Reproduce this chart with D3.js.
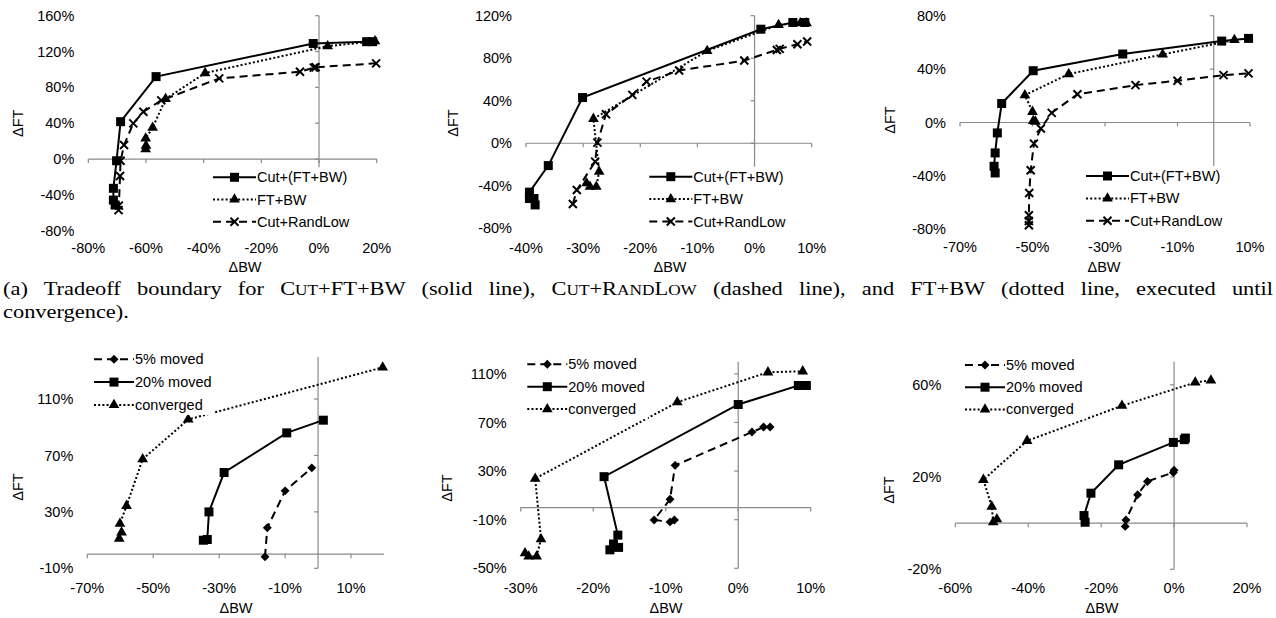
<!DOCTYPE html>
<html>
<head>
<meta charset="utf-8">
<title>Tradeoff boundary</title>
<script src="https://d3js.org/d3.v7.min.js"></script>
<style>
  body { margin: 0; background: #fff; }
  svg { display: block; }
  text { font-family: "Liberation Sans", Arial, sans-serif; font-size: 14.5px; fill: #000; }
  text.caption { font-family: "Liberation Serif", "Times New Roman", serif; font-size: 19.5px; }
</style>
</head>
<body>
<script>
// values are [ΔBW %, ΔFT %]
// (a) top row
const a1CutFtBw = [[-70.7, -51.3], [-71.3, -45.8], [-71.3, -32.7], [-70.2, -1.9], [-68.8, 41.7], [-56.5, 92], [-2, 129], [16.5, 131], [18.6, 131]]
const a1FtBw = [[-60.1, 11], [-60, 15], [-60.1, 23], [-57.7, 35], [-53.2, 67], [-39.5, 96], [3, 126], [19.4, 131.5]]
const a1CutRand = [[-69.5, -57], [-69.4, -52], [-69, -19], [-68.8, -2], [-67.6, 15.6], [-64.4, 39.8], [-60.9, 52.8], [-54.7, 65.5], [-34.6, 90], [-6.6, 97.5], [-1.8, 102], [-1.2, 102.5], [19.8, 106.8]]

const a2CutFtBw = [[-38.4, -58], [-38.6, -52], [-39.4, -52], [-39.4, -46], [-36.1, -21], [-30.1, 43], [1.1, 107.3], [6.7, 113.6], [8.8, 113.6]]
const a2FtBw = [[-29.4, -37.6], [-28.8, -40.8], [-27.7, -40.8], [-27.2, -26.7], [-28.2, 23], [-8.3, 86.9], [4.2, 111.4], [8, 113], [9.1, 113]]
const a2CutRand = [[-31.8, -57.1], [-31.1, -44], [-27.9, -17.3], [-27.5, 0.6], [-26, 27.3], [-21.4, 45.5], [-18.9, 58], [-13.2, 68.4], [-1.8, 77.8], [3.9, 87.8], [4.4, 88.8], [7.5, 93.2], [9.2, 95.7]]

const a3CutFtBw = [[-60.3, -37.8], [-60.6, -32.8], [-60.3, -22.8], [-59.7, -7.8], [-58.5, 14.2], [-49.8, 38.8], [-25.1, 51.3], [2.2, 61], [9.6, 63]]
const a3FtBw = [[-49.2, 0.7], [-49.8, 1.2], [-50, 8], [-52.1, 20.5], [-40, 36.3], [-14.1, 51], [5.7, 61.8]]
const a3CutRand = [[-51, -77], [-51, -73.8], [-51, -69.5], [-50.9, -52.8], [-50.5, -35.8], [-49.6, -15.8], [-47.7, -4.5], [-44.7, 7.2], [-37.6, 21.2], [-21.6, 28], [-10, 31.3], [2.7, 35.5], [9.6, 36.8]]

// bottom row
const b1Moved5 = [[-16.1, -1.9], [-15.4, 18.7], [-10, 44.9], [-1.9, 61.2]]
const b1Moved20 = [[-34.8, 9.9], [-33.6, 10.4], [-33.1, 30], [-28.5, 57.9], [-9.5, 86], [1.6, 95]]
const b1Converged = [[-60.3, 11.1], [-59.6, 15.4], [-60.1, 21.7], [-58.1, 34.3], [-53.2, 67.4], [-39.4, 95.5], [19.6, 132.4]]

const b2Moved5 = [[-8.8, -10.2], [-9.4, -11.8], [-11.6, -10.2], [-9.4, 6.8], [-8.7, 34.7], [1.9, 62.1], [3.5, 66.2], [4.4, 66.2]]
const b2Moved20 = [[-17.7, -34.8], [-16.5, -32.8], [-17.2, -30], [-16.6, -22.7], [-18.5, 25.4], [0, 84.8], [8.3, 100.4], [9.4, 100.4]]
const b2Converged = [[-29.4, -37.5], [-28.9, -40.2], [-27.8, -40.2], [-27.2, -26], [-28, 23.8], [-8.4, 86.7], [4.1, 111.3], [8.9, 112.1]]

const b3Moved5 = [[-13.4, -1.4], [-13.2, 1.4], [-10, 12.3], [-7.3, 18.1], [-0.2, 22], [0, 22.9]]
const b3Moved20 = [[-24.4, 0.4], [-24.7, 3.3], [-22.8, 13], [-15.2, 25.3], [-0.2, 35], [2.8, 36.2], [3.1, 36.9]]
const b3Converged = [[-48.6, 1.7], [-49.6, 0.4], [-50, 7.2], [-52.3, 18.8], [-40.3, 35.7], [-14.3, 50.9], [5.8, 61], [10.1, 61.9]]

const topNames = ['Cut+(FT+BW)', 'FT+BW', 'Cut+RandLow']
const bottomNames = ['5% moved', '20% moved', 'converged']

// axis ranges and tick steps (%)
const xDomains = [[-80, 20], [-40, 10], [-70, 10], [-70, 20], [-30, 10], [-60, 20]]
const xSteps = [20, 10, 20, 20, 10, 20]
const yDomains = [[-80, 160], [-80, 120], [-80, 80], [-10, 140], [-50, 120], [-20, 70]]
const ySteps = [40, 40, 40, 40, 40, 40]

const topLook = [
    { line: null, marker: 'square' },
    { line: '2,2.2', marker: 'triangle' },
    { line: '8,5', marker: 'x' }
]
const bottomLook = [
    { line: '8,5', marker: 'diamond' },
    { line: null, marker: 'square' },
    { line: '2,2.2', marker: 'triangle' }
]

const panels = [
    { px: [88.3, 376.7], py: [230.7, 15.7], series: [a1CutFtBw, a1FtBw, a1CutRand], names: topNames, look: topLook,
      legend: { x: 213, y: 177.3, step: 22.2, len: 43 }, yTitle: [18.3, 123.3], xTitle: [245, 272], xLabelY: 253 },
    { px: [526, 811.7], py: [228.3, 15.7], series: [a2CutFtBw, a2FtBw, a2CutRand], names: topNames, look: topLook,
      legend: { x: 649.3, y: 176.7, step: 22.4, len: 43 }, yTitle: [453.3, 123], xTitle: [670, 272], xLabelY: 253 },
    { px: [960, 1250], py: [229.3, 15.7], series: [a3CutFtBw, a3FtBw, a3CutRand], names: topNames, look: topLook,
      legend: { x: 1086, y: 176, step: 22.4, len: 43 }, yTitle: [889.5, 120], xTitle: [1104, 272], xLabelY: 252 },
    { px: [87.3, 384], py: [568.3, 356.7], series: [b1Moved5, b1Moved20, b1Converged], names: bottomNames, look: bottomLook,
      legend: { x: 94, y: 359.3, step: 22.8, len: 40 }, yTitle: [18.3, 487], xTitle: [236, 613], xLabelY: 593 },
    { px: [520.7, 810.7], py: [568.3, 361.7], series: [b2Moved5, b2Moved20, b2Converged], names: bottomNames, look: bottomLook,
      legend: { x: 527.3, y: 364.3, step: 22.4, len: 40 }, yTitle: [446.7, 488], xTitle: [666, 613], xLabelY: 593 },
    { px: [955.3, 1247], py: [569.3, 361.7], series: [b3Moved5, b3Moved20, b3Converged], names: bottomNames, look: bottomLook,
      legend: { x: 965, y: 365, step: 22.2, len: 40 }, yTitle: [889.3, 490], xTitle: [1102, 613], xLabelY: 593 }
]

const axisColor = '#8a8a8a'
const pct = d => `${d}%`

const svg = d3.select('body').append('svg')
    .attr('width', 1276)
    .attr('height', 618)

const markerPath = type => {
    if (type === 'square') return d3.symbol(d3.symbolSquare, 81)()
    if (type === 'triangle') return d3.symbol(d3.symbolTriangle, 50)()
    if (type === 'diamond') return d3.symbol(d3.symbolSquare, 40)()
    return 'M-4,-4L4,4M-4,4L4,-4'
}

const drawMarker = (sel, type, x, y) => {
    const p = sel.append('path')
        .attr('d', markerPath(type))
        .attr('transform', `translate(${x},${y})` + (type === 'diamond' ? ' rotate(45)' : ''))
    if (type === 'x') {
        p.attr('fill', 'none').attr('stroke', '#000').attr('stroke-width', 2)
    } else {
        p.attr('fill', '#000')
    }
}

panels.forEach((p, i) => {
    const g = svg.append('g')
    const x = d3.scaleLinear().domain(xDomains[i]).range(p.px)
    const y = d3.scaleLinear().domain(yDomains[i]).range(p.py)
    const xTicks = d3.range(xDomains[i][0], xDomains[i][1] + 0.001, xSteps[i])
    const yTicks = d3.range(yDomains[i][0], yDomains[i][1] + 0.001, ySteps[i])

    // axes cross at zero
    g.append('line')
        .attr('x1', x(0)).attr('x2', x(0))
        .attr('y1', y(yDomains[i][0])).attr('y2', y(yDomains[i][1]))
        .attr('stroke', axisColor).attr('stroke-width', 1.2)
    g.append('line')
        .attr('x1', x(xDomains[i][0])).attr('x2', x(xDomains[i][1]))
        .attr('y1', y(0)).attr('y2', y(0))
        .attr('stroke', axisColor).attr('stroke-width', 1.2)

    g.selectAll('.ytick').data(yTicks).enter()
        .append('line')
            .attr('x1', x(0) - 4).attr('x2', x(0))
            .attr('y1', d => y(d)).attr('y2', d => y(d))
            .attr('stroke', axisColor).attr('stroke-width', 1.2)
    g.selectAll('.xtick').data(xTicks).enter()
        .append('line')
            .attr('x1', d => x(d)).attr('x2', d => x(d))
            .attr('y1', y(0)).attr('y2', y(0) + 4)
            .attr('stroke', axisColor).attr('stroke-width', 1.2)

    g.selectAll('.ylabel').data(yTicks).enter()
        .append('text')
            .attr('x', p.px[0] - 14)
            .attr('y', d => y(d))
            .attr('dy', '0.35em')
            .attr('text-anchor', 'end')
            .text(pct)
    g.selectAll('.xlabel').data(xTicks).enter()
        .append('text')
            .attr('x', d => x(d))
            .attr('y', p.xLabelY)
            .attr('text-anchor', 'middle')
            .text(pct)

    g.append('text')
        .attr('x', p.xTitle[0]).attr('y', p.xTitle[1])
        .attr('text-anchor', 'middle')
        .text('ΔBW')
    g.append('text')
        .attr('transform', `translate(${p.yTitle[0]},${p.yTitle[1]}) rotate(-90)`)
        .attr('dy', '0.35em')
        .attr('text-anchor', 'middle')
        .text('ΔFT')

    const line = d3.line().x(d => x(d[0])).y(d => y(d[1]))

    p.series.forEach((data, k) => {
        const look = p.look[k]
        g.append('path')
            .attr('d', line(data))
            .attr('fill', 'none')
            .attr('stroke', '#000')
            .attr('stroke-width', 2)
            .attr('stroke-dasharray', look.line)
        data.forEach(d => drawMarker(g, look.marker, x(d[0]), y(d[1])))
    })

    // legend
    const lg = svg.append('g')
    const bg = lg.append('rect').attr('fill', '#fff')
    let maxRight = 0
    p.names.forEach((name, k) => {
        const ly = p.legend.y + k * p.legend.step
        const look = p.look[k]
        lg.append('line')
            .attr('x1', p.legend.x).attr('x2', p.legend.x + p.legend.len)
            .attr('y1', ly).attr('y2', ly)
            .attr('stroke', '#000').attr('stroke-width', 2)
            .attr('stroke-dasharray', look.line)
        drawMarker(lg, look.marker, p.legend.x + p.legend.len / 2, ly)
        const t = lg.append('text')
            .attr('x', p.legend.x + p.legend.len + 1)
            .attr('y', ly)
            .attr('dy', '0.35em')
            .text(name)
        maxRight = Math.max(maxRight, p.legend.x + p.legend.len + 1 + t.node().getComputedTextLength())
    })
    bg.attr('x', p.legend.x - 3)
        .attr('y', p.legend.y - 10)
        .attr('width', maxRight - p.legend.x + 6)
        .attr('height', p.legend.step * 2 + 20)
})

// caption, a little wide, justified over the full width
const capStretch = 1.15
const capLine1 = [
    { t: '(a) Tradeoff boundary for C' }, { t: 'UT', sc: true }, { t: '+FT+BW (solid line), C' }, { t: 'UT', sc: true },
    { t: '+R' }, { t: 'AND', sc: true }, { t: 'L' }, { t: 'OW', sc: true },
    { t: ' (dashed line), and FT+BW (dotted line, executed until' }
]
const cap = svg.append('g').attr('transform', `scale(${capStretch},1)`)
const cap1 = cap.append('text')
    .attr('class', 'caption')
    .attr('x', 3 / capStretch)
    .attr('y', 295)
cap1.selectAll('tspan').data(capLine1).enter()
    .append('tspan')
        .style('font-size', d => d.sc ? '15px' : null)
        .text(d => d.t)
const natural = cap1.node().getComputedTextLength()
const spaces = capLine1.map(d => d.t).join('').split(' ').length - 1
cap1.style('word-spacing', `${Math.max(0, (1270 / capStretch - natural) / spaces)}px`)

cap.append('text')
    .attr('class', 'caption')
    .attr('x', 3 / capStretch)
    .attr('y', 318)
    .text('convergence).')
</script>
</body>
</html>
